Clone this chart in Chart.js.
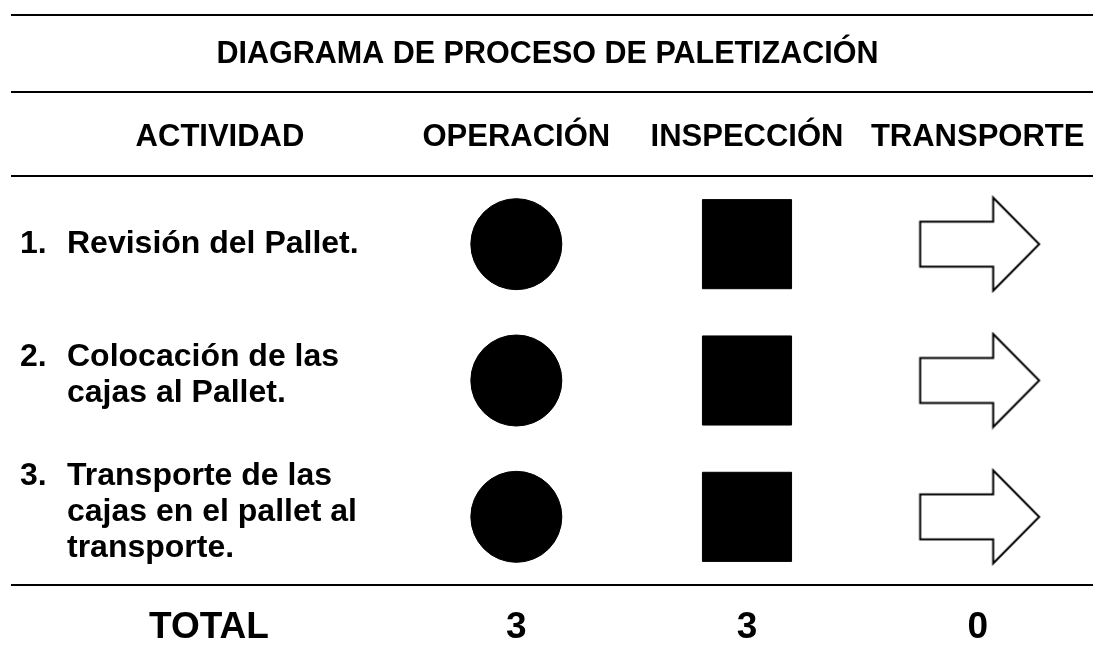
<!DOCTYPE html>
<html>
<head>
<meta charset="utf-8">
<script src="https://cdn.jsdelivr.net/npm/chart.js@4.4.0/dist/chart.umd.min.js"></script>
<style>
  html, body { margin: 0; padding: 0; background: #fff; }
  #wrap { width: 1093px; height: 662px; }
</style>
</head>
<body>
<div id="wrap"><canvas id="diagrama"></canvas></div>
<script>
const titulo = 'DIAGRAMA DE PROCESO DE PALETIZACIÓN';
const cabeceraActividad = 'ACTIVIDAD';
const columnas = ['OPERACIÓN', 'INSPECCIÓN', 'TRANSPORTE'];
const numeros = ['1.', '2.', '3.'];
const actividades = [
  ['Revisión del Pallet.'],
  ['Colocación de las', 'cajas al Pallet.'],
  ['Transporte de las', 'cajas en el pallet al', 'transporte.']
];
// 1 = simbolo relleno (cuenta en el total), 0 = solo contorno
const operacion = [1, 1, 1];
const inspeccion = [1, 1, 1];
const transporte = [0, 0, 0];
const etiquetaTotal = 'TOTAL';

const filas = actividades.map(a => a.join(' '));
const series = [operacion, inspeccion, transporte];
const totales = series.map(s => s.reduce((a, b) => a + b, 0));
const FUENTE = "'Liberation Sans', Arial, sans-serif";

// flecha de transporte como imagen de punto
function flecha(relleno) {
  const c = document.createElement('canvas');
  c.width = 128; c.height = 98;
  const g = c.getContext('2d');
  g.translate(64, 49);
  g.beginPath();
  g.moveTo(-57.5, -22.5);
  g.lineTo(15.5, -22.5);
  g.lineTo(15.5, -46.5);
  g.lineTo(61.5, 0);
  g.lineTo(15.5, 46.5);
  g.lineTo(15.5, 22.5);
  g.lineTo(-57.5, 22.5);
  g.closePath();
  g.fillStyle = relleno ? '#000' : '#fff';
  g.fill();
  g.lineWidth = 2;
  g.strokeStyle = '#000';
  g.lineJoin = 'miter';
  g.stroke();
  return c;
}
const flechaVacia = flecha(false);
const flechaLlena = flecha(true);

function puntos(serie, col) {
  return serie.map((v, i) => ({ x: columnas[col], y: filas[i], v: v }));
}
const colorRelleno = ctx => (ctx.raw && ctx.raw.v ? '#000' : '#fff');

const tablaPlugin = {
  id: 'tabla',
  afterDraw(chart) {
    const ctx = chart.ctx;
    const area = chart.chartArea;
    const xs = chart.scales.x;
    const ys = chart.scales.y;
    ctx.save();
    ctx.strokeStyle = '#000';
    ctx.lineWidth = 2;
    [15, 92, area.top, area.bottom].forEach(y => {
      ctx.beginPath();
      ctx.moveTo(11, y);
      ctx.lineTo(chart.width, y);
      ctx.stroke();
    });

    ctx.fillStyle = '#000';
    ctx.textBaseline = 'middle';
    ctx.textAlign = 'center';
    ctx.font = 'bold 30.5px ' + FUENTE;
    ctx.fillText(titulo, chart.width / 2 + 1, 55);

    ctx.font = 'bold 31px ' + FUENTE;
    ctx.fillText(cabeceraActividad, 220, 137);
    columnas.forEach((c, i) => ctx.fillText(c, xs.getPixelForValue(i), 137));

    ctx.textAlign = 'left';
    ctx.font = 'bold 32px ' + FUENTE;
    const alto = 36;
    actividades.forEach((lineas, i) => {
      const yc = ys.getPixelForValue(i);
      const y0 = yc - (lineas.length - 1) * alto / 2 - (lineas.length > 1 ? 5 : 0);
      ctx.fillText(numeros[i], 20, y0);
      lineas.forEach((l, j) => ctx.fillText(l, 67, y0 + j * alto));
    });

    ctx.textAlign = 'center';
    ctx.font = 'bold 37px ' + FUENTE;
    const yt = 628;
    ctx.fillText(etiquetaTotal, 209, yt);
    totales.forEach((t, i) => ctx.fillText(String(t), xs.getPixelForValue(i), yt));
    ctx.restore();
  }
};

new Chart(document.getElementById('diagrama'), {
  type: 'scatter',
  data: {
    datasets: [
      {
        label: columnas[0],
        data: puntos(operacion, 0),
        pointStyle: 'circle',
        pointRadius: 45.5,
        pointBorderWidth: 1,
        pointBorderColor: '#000',
        pointBackgroundColor: colorRelleno
      },
      {
        label: columnas[1],
        data: puntos(inspeccion, 1),
        pointStyle: 'rect',
        pointRadius: 63,
        pointBorderWidth: 1,
        pointBorderColor: '#000',
        pointBackgroundColor: colorRelleno
      },
      {
        label: columnas[2],
        data: puntos(transporte, 2),
        pointStyle: ctx => (ctx.raw && ctx.raw.v ? flechaLlena : flechaVacia),
        pointRadius: 60
      }
    ]
  },
  options: {
    responsive: true,
    maintainAspectRatio: false,
    animation: false,
    events: [],
    layout: {
      autoPadding: false,
      padding: { left: 401, right: 0, top: 176, bottom: 77 }
    },
    plugins: {
      legend: { display: false },
      tooltip: { enabled: false }
    },
    scales: {
      x: {
        type: 'category',
        labels: columnas,
        offset: true,
        display: false
      },
      y: {
        type: 'category',
        labels: filas,
        offset: true,
        display: false
      }
    }
  },
  plugins: [tablaPlugin]
});
</script>
</body>
</html>
